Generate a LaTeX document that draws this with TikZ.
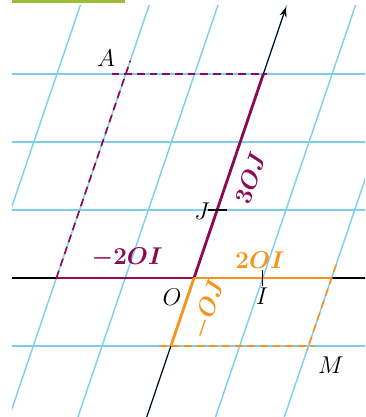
\documentclass[tikz,border=0pt]{standalone}
\usepackage{amsmath,amssymb}
\usepackage{xcolor}
\usepackage{tikz}
\usetikzlibrary{arrows.meta}

\definecolor{gridblue}{RGB}{125,205,240}
\definecolor{vecpurple}{RGB}{140,10,85}
\definecolor{vecorange}{RGB}{247,148,30}
\definecolor{bargreen}{RGB}{155,190,50}

\begin{document}
\begin{tikzpicture}[
    font=\fontsize{16}{19}\selectfont,
    gridline/.style={gridblue, line width=1pt},
    axisline/.style={black, line width=0.75pt},
    purplevec/.style={vecpurple, line width=2pt},
    purpledash/.style={vecpurple, line width=1.2pt, dash pattern=on 5.5pt off 3.5pt},
    orangevec/.style={vecorange, line width=2pt},
    orangedash/.style={vecorange, line width=1.2pt, dash pattern=on 5.5pt off 3.5pt},
    lab/.style={inner sep=0pt}
]
\useasboundingbox (-4.85,-3.475) rectangle (4.275,6.95);
\fill[bargreen] (-4.55,6.875) rectangle (-1.725,6.95);

\begin{scope}
\clip (-4.55,-3.475) rectangle (4.275,6.8);
\begin{scope}[x={(1.72cm,0cm)}, y={(0.578cm,1.7cm)}]
% grid
\foreach \j in {-1,...,3}
  \draw[gridline] (-5,\j) -- (4,\j);
\foreach \i in {-3,...,2}
  \draw[gridline] (\i,-3) -- (\i,5);

\coordinate (O) at (0,0);
\coordinate (I) at (1,0);
\coordinate (J) at (0,1);
\coordinate (Im2) at (-2,0);
\coordinate (I2) at (2,0);
\coordinate (J3) at (0,3);
\coordinate (Jm) at (0,-1);
\coordinate (A) at (-2,3);
\coordinate (M) at (2,-1);
\coordinate (xl) at (-5,0);
\coordinate (xr) at (4,0);
\coordinate (yb) at (0,-2.2);
\coordinate (yt) at (0,3.985);

% axes
\draw[axisline] (xl) -- (xr);
\draw[axisline, -{Stealth[length=7pt,width=5pt]}] (yb) -- (yt);

% parallelograms
\draw[purpledash, shorten >=-0.35cm] (Im2) -- (A);
\draw[purpledash, shorten <=-0.35cm, shorten >=-0.1cm] (A) -- (J3);
\draw[orangedash, shorten <=-0.3cm, shorten >=-0.15cm] (Jm) -- (M);
\draw[orangedash, shorten <=-0.35cm, shorten >=-0.1cm] (I2) -- (M);
\draw[purplevec] (Im2) -- (O);
\draw[purplevec] (O) -- (J3);
\draw[orangevec] (O) -- (I2);
\draw[orangevec] (O) -- (Jm);
\end{scope}
\end{scope}

% ticks
\draw[axisline] ([xshift=-0.24cm]J) -- ([xshift=0.24cm]J);
\draw[axisline] ([yshift=0.21cm]I) -- ([yshift=-0.21cm]I);

% labels
\node[lab] (labA) at (-2.2,5.5) {$A$};
\node[lab] (labJ) at (0.2,1.68) {$J$};
\node[lab] (labO) at (-0.55,-0.475) {$O$};
\node[lab] (labI) at (1.7,-0.45) {$I$};
\node[lab] (labM) at (3.425,-2.175) {$M$};
\node[lab, text=vecpurple] (labIm2) at (-1.675,0.5) {$\boldsymbol{-2OI}$};
\node[lab, text=vecorange] (labI2) at (1.65,0.45) {$\boldsymbol{2OI}$};
\node[lab, text=vecpurple, rotate=71.2] (labJ3) at (1.4,2.5) {$\boldsymbol{3OJ}$};
\node[lab, text=vecorange, rotate=71.2] (labJm) at (0.36,-0.78) {$\boldsymbol{-OJ}$};
\end{tikzpicture}
\end{document}
